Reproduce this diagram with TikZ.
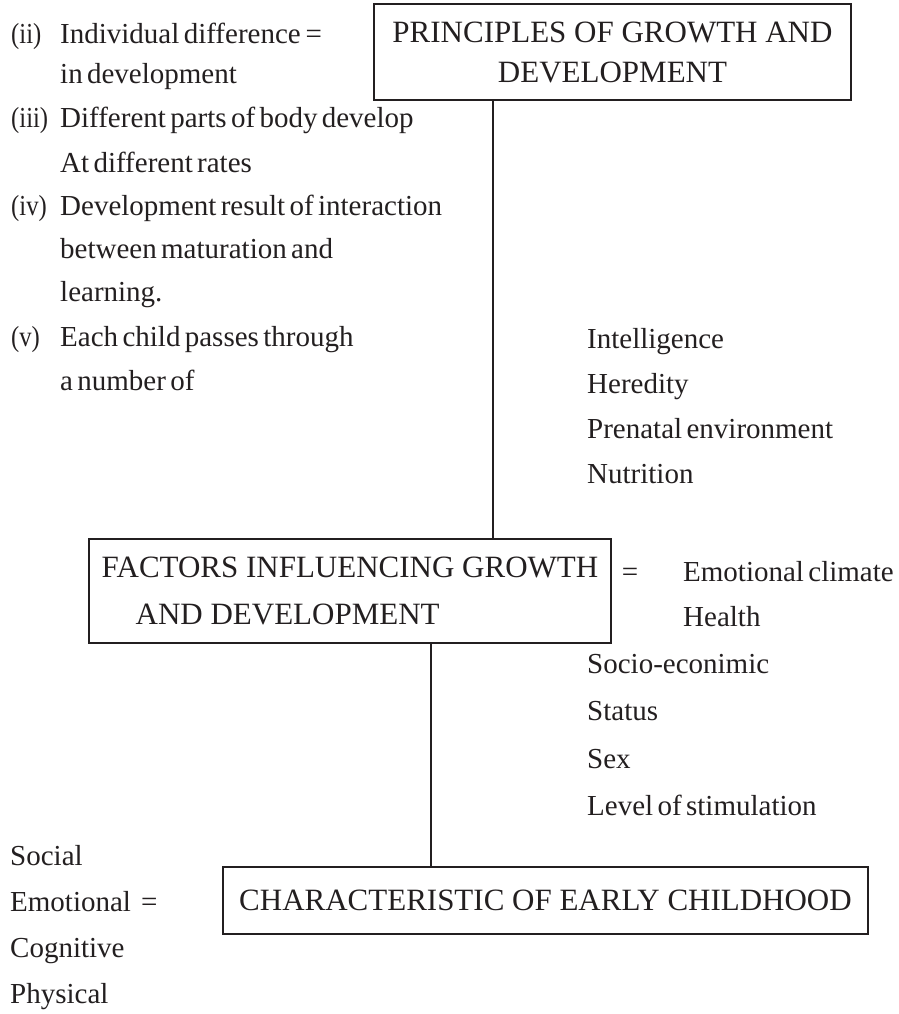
\documentclass[tikz,border=0pt]{standalone}
\usepackage{fontspec}
\usepackage{graphicx}
\setmainfont{Liberation Serif}
\newfontfamily\tightserif{Liberation Serif}[WordSpace=0.6]
\newcommand{\numlbl}[1]{\scalebox{0.85}[1]{#1}}
\definecolor{ink}{HTML}{231F20}
\begin{document}
\begin{tikzpicture}[x=1pt,y=-1pt,
  txt/.style={anchor=base west, inner sep=0pt, text=ink, font=\tightserif\fontsize{29}{35}\selectfont},
  boxnode/.style={draw=ink, line width=2pt, inner sep=0pt, text=ink},
  link/.style={draw=ink, line width=2pt}]
\useasboundingbox (0,0) rectangle (898,1014);
% boxes
\node[boxnode, minimum width=477pt, minimum height=96pt, align=center,
      font=\fontsize{31}{40}\selectfont] (princ) at (612.5,52)
      {PRINCIPLES OF GROWTH AND\\DEVELOPMENT};
\node[boxnode, minimum width=522pt, minimum height=104pt, align=left,
      font=\fontsize{31}{47}\selectfont] (fact) at (350,591)
      {FACTORS INFLUENCING GROWTH\\\hspace*{34pt}AND DEVELOPMENT};
\node[boxnode, minimum width=645pt, minimum height=67pt,
      font=\fontsize{31}{40}\selectfont] (char) at (545.5,900.5)
      {CHARACTERISTIC OF EARLY CHILDHOOD};
% connectors
\coordinate (cx1) at (493,0);
\coordinate (cx2) at (431,0);
\draw[link] (princ.south -| cx1) -- (fact.north -| cx1);
\draw[link] (fact.south -| cx2) -- (char.north -| cx2);
% principles list
\node[txt] (n2) at (11,44) {\numlbl{(ii)}};
\node[txt] (t2a) at (60,44) {Individual difference\,=};
\node[txt] (t2b) at (60,84) {in development};
\node[txt] (n3) at (11,128) {\numlbl{(iii)}};
\node[txt] (t3a) at (60,128) {Different parts of body develop};
\node[txt] (t3b) at (60,172) {At different rates};
\node[txt] (n4) at (11,215) {\numlbl{(iv)}};
\node[txt] (t4a) at (60,215) {Development result of interaction};
\node[txt] (t4b) at (60,258) {between maturation and};
\node[txt] (t4c) at (60,301) {learning.};
\node[txt] (n5) at (11,346) {\numlbl{(v)}};
\node[txt] (t5a) at (60,346) {Each child passes through};
\node[txt] (t5b) at (60,390) {a number of};
% factors list
\node[txt] (f1) at (587,348) {Intelligence};
\node[txt] (f2) at (587,393) {Heredity};
\node[txt] (f3) at (587,438) {Prenatal environment};
\node[txt] (f4) at (587,483) {Nutrition};
\node[txt, anchor=base] (feq) at (630,581) {=};
\node[txt] (f5) at (683,581) {Emotional climate};
\node[txt] (f6) at (683,626) {Health};
\node[txt] (f7) at (587,673) {Socio-econimic};
\node[txt] (f8) at (587,720) {Status};
\node[txt] (f9) at (587,768) {Sex};
\node[txt] (f10) at (587,815) {Level of stimulation};
% characteristics list
\node[txt] (c1) at (10,865) {Social};
\node[txt] (c2) at (10,911) {Emotional\hspace{10pt}=};
\node[txt] (c3) at (10,957) {Cognitive};
\node[txt] (c4) at (10,1003) {Physical};
\end{tikzpicture}
\end{document}
